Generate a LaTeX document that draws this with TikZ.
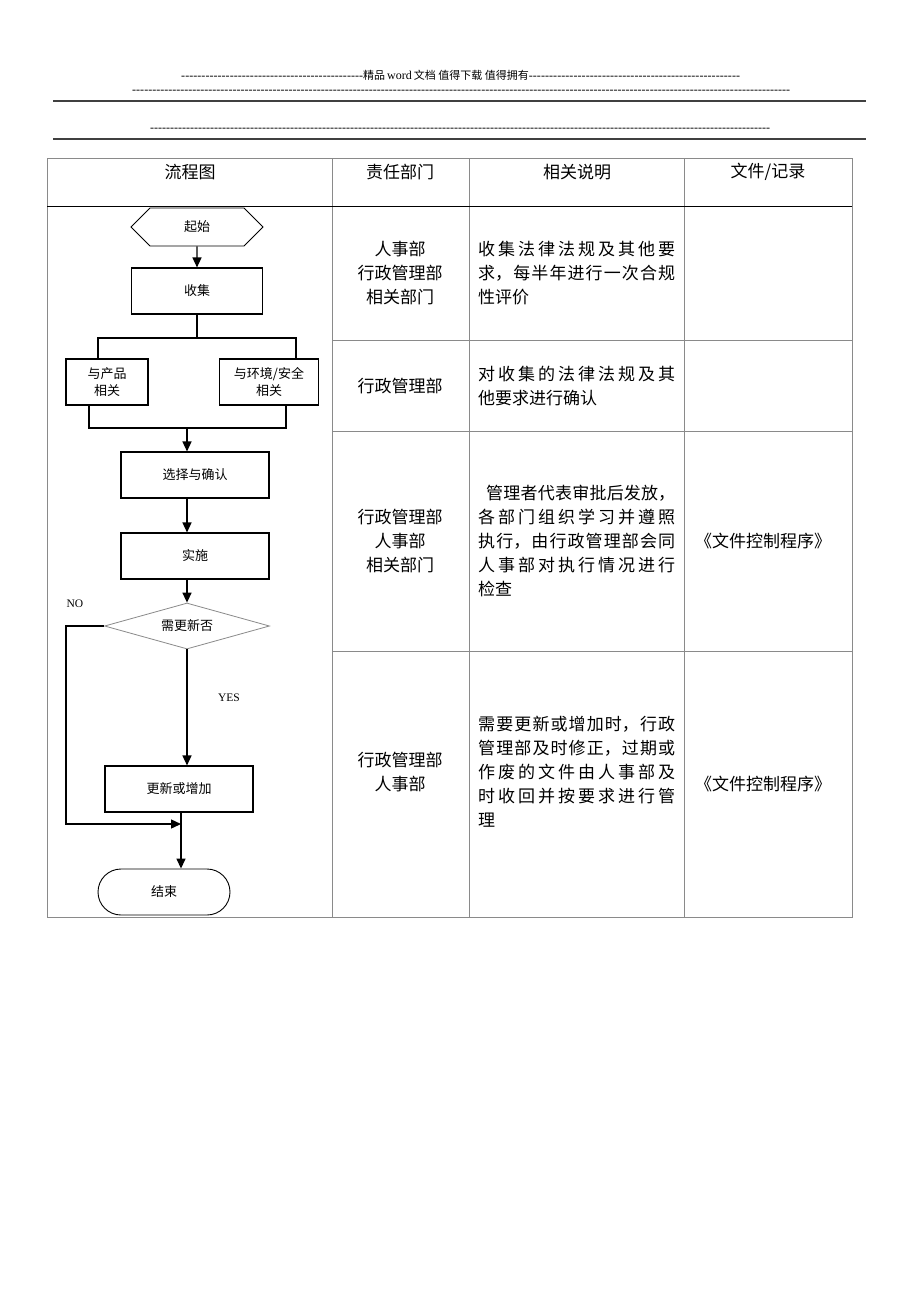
\documentclass[tikz,border=0pt]{standalone}
\usepackage{fontspec}
\setmainfont{Liberation Serif}
\newfontfamily\cjk{Noto Sans CJK SC}
\usetikzlibrary{arrows.meta,shapes.geometric,shapes.misc}

\definecolor{GL}{HTML}{8A8A8A}
\definecolor{RL}{HTML}{404040}

\XeTeXlinebreaklocale "zh"
\XeTeXlinebreakskip=0pt plus 4pt
\newcommand\dashrun[1]{\hbox to #1pt{\xleaders\hbox{-}\hfill}}

\begin{document}
\begin{tikzpicture}[x=1pt, y=-1pt,
    box/.style={draw, line width=1.1pt, inner sep=0pt, minimum height=46pt, align=center, font=\cjk\fontsize{13}{17}\selectfont},
    hexa/.style={chamfered rectangle, chamfered rectangle xsep=23pt, chamfered rectangle ysep=17.4pt, draw, line width=0.8pt, minimum width=132pt, minimum height=35pt, inner sep=0pt, font=\cjk\fontsize{13}{17}\selectfont},
    query/.style={diamond, draw=GL, line width=0.8pt, minimum width=165pt, minimum height=46pt, aspect=3.6, inner sep=0pt, font=\cjk\fontsize{13}{17}\selectfont},
    endbox/.style={rounded rectangle, draw, line width=0.9pt, minimum width=132pt, minimum height=46pt, inner sep=0pt, font=\cjk\fontsize{13}{17}\selectfont},
    flow/.style={line width=1.4pt, -{Triangle[length=10pt,width=9pt]}},
    link/.style={line width=1.1pt},
    tline/.style={draw=GL, line width=1pt},
    cell/.style={align=center, inner sep=0pt, font=\cjk\fontsize{17}{24}\selectfont},
    note/.style={anchor=west, text width=197pt, align=justify, inner sep=0pt, font=\cjk\fontsize{17}{24}\selectfont},
    lbl/.style={inner sep=0pt, font=\fontsize{11.5}{13}\selectfont},
    banner/.style={anchor=west, inner sep=0pt, font=\fontsize{12}{14}\selectfont}]
    \path[use as bounding box, fill=white] (0,0) rectangle (920,1302);

    % page header
    \node[banner] (h1) at (181,75) {\hbox to 559pt{\dashrun{182}{\cjk\fontsize{11}{14}\selectfont 精品}\,word\,{\cjk\fontsize{11}{14}\selectfont 文档\ 值得下载\ 值得拥有}\xleaders\hbox{-}\hfill}};
    \node[banner] (h2) at (132,92) {\dashrun{658}};
    \node[banner] (h3) at (150,130) {\dashrun{620}};
    \draw[RL, line width=1.6pt] (53,101) -- (866,101);
    \draw[RL, line width=1.6pt] (53,139) -- (866,139);

    % table
    \draw[tline] (47,158) rectangle (852,917);
    \draw[tline] (332,158) -- (332,917);
    \draw[tline] (469,158) -- (469,917);
    \draw[tline] (684,158) -- (684,917);
    \draw[line width=1pt] (47,206) -- (852,206);
    \draw[tline] (332,340) -- (852,340);
    \draw[tline] (332,431) -- (852,431);
    \draw[tline] (332,651) -- (852,651);

    \node[cell] (t1) at (190,172) {流程图};
    \node[cell] (t2) at (400,172) {责任部门};
    \node[cell] (t3) at (577,172) {相关说明};
    \node[cell] (t4) at (768,172) {文件/记录};

    % rows
    \node[cell] (d1) at (400,273) {人事部\\行政管理部\\相关部门};
    \node[note] (n1) at (478,273) {收集法律法规及其他要\linebreak 求，每半年进行一次合规\linebreak 性评价};
    \node[cell] (d2) at (400,386) {行政管理部};
    \node[note] (n2) at (478,386) {对收集的法律法规及其\linebreak 他要求进行确认};
    \node[cell] (d3) at (400,541) {行政管理部\\人事部\\相关部门};
    \node[note] (n3) at (478,541) {\hspace*{8pt}管理者代表审批后发放，\linebreak 各部门组织学习并遵照\linebreak 执行，由行政管理部会同\linebreak 人事部对执行情况进行\linebreak 检查};
    \node[cell] (f3) at (763,541) {《文件控制程序》};
    \node[cell] (d4) at (400,772) {行政管理部\\人事部};
    \node[note] (n4) at (478,772) {需要更新或增加时，行政\linebreak 管理部及时修正，过期或\linebreak 作废的文件由人事部及\linebreak 时收回并按要求进行管\linebreak 理};
    \node[cell] (f4) at (763,784) {《文件控制程序》};

    % flow chart
    \node[hexa] (start) at (197,227) {起始};
    \node[box, minimum width=131pt] (collect) at (197,291) {收集};
    \node[box, minimum width=82pt] (prod) at (107,382) {与产品\\相关};
    \node[box, minimum width=99pt] (env) at (269,382) {与环境/安全\\相关};
    \node[box, minimum width=148pt] (select) at (195,475) {选择与确认};
    \node[box, minimum width=148pt] (impl) at (195,556) {实施};
    \node[query] (check) at (187,626) {需更新否};
    \node[box, minimum width=148pt] (update) at (179,789) {更新或增加};
    \node[endbox] (finish) at (164,892) {结束};
    \node[lbl] (no) at (75,604) {NO};
    \node[lbl] (yes) at (229,698) {YES};

    \coordinate (sl) at (98,338);
    \coordinate (sr) at (296,338);
    \coordinate (ml) at (89,428);
    \coordinate (mr) at (286,428);
    \coordinate (join) at (187,428);
    \coordinate (nb) at (66,824);
    \coordinate (tail) at (181,824);

    \draw[flow] (start) -- (collect);
    \draw[link] (collect.south) |- (sl) -- (sl |- prod.north);
    \draw[link] (collect.south |- sl) -- (sr) -- (sr |- env.north);
    \draw[link] (ml |- prod.south) -- (ml) -- (mr) -- (mr |- env.south);
    \draw[flow] (join) -- (join |- select.north);
    \draw[flow] (join |- select.south) -- (join |- impl.north);
    \draw[flow] (join |- impl.south) -- (check.north);
    \draw[flow] (check.south) -- (check.south |- update.north);
    \draw[flow] (check.west) -| (nb) -- (tail);
    \draw[flow] (tail |- update.south) -- (tail |- finish.north);
\end{tikzpicture}
\end{document}
